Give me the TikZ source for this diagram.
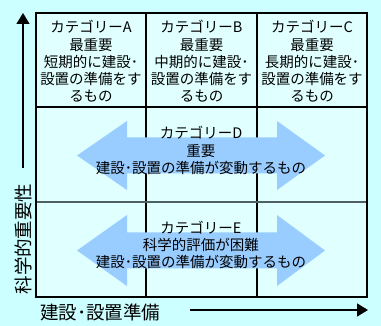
\documentclass[tikz,border=0pt]{standalone}
\usepackage{fontspec}
\newfontfamily\jpfont{Noto Sans CJK JP}
\usetikzlibrary{arrows.meta}
\definecolor{bgcol}{RGB}{204,255,255}
\definecolor{cellcol}{RGB}{224,255,255}
\definecolor{arrowcol}{RGB}{153,204,255}
\definecolor{midline}{RGB}{80,96,96}
\tikzset{
  gridline/.style={line width=2pt, black},
  bigarrow/.style={fill=arrowcol, draw=none},
  celltext/.style={font=\jpfont\fontsize{14.5}{17.3}\selectfont, align=center, inner sep=0pt},
  axistext/.style={font=\jpfont\fontsize{18.5}{20}\selectfont, inner sep=0pt},
  axisarrow/.style={line width=1.5pt, -{Triangle[length=11pt,width=13pt]}}
}
\begin{document}
\begin{tikzpicture}[x=1pt,y=-1pt]
\fill[bgcol] (0,0) rectangle (381,326);
\useasboundingbox (0,0) rectangle (381,326);
% cells
\fill[cellcol] (36,13) rectangle (367,297);
% grid
\draw[gridline] (146,13) -- (146,297);
\draw[gridline] (257,13) -- (257,297);
\draw[gridline] (36,107) -- (367,107);
\draw[line width=2pt, midline] (36,202) -- (367,202);
\draw[gridline] (36,13) rectangle (367,297);
% double arrows
\fill[bigarrow] (77,155.5) -- (127,121) -- (127,137.5) -- (277,137.5) -- (277,121) -- (325,155.5)
  -- (277,190) -- (277,173.5) -- (127,173.5) -- (127,190) -- cycle;
\fill[bigarrow] (77,250.5) -- (127,215) -- (127,232.5) -- (277,232.5) -- (277,215) -- (325,250.5)
  -- (277,286) -- (277,268.5) -- (127,268.5) -- (127,286) -- cycle;
% cell texts
\node[celltext] (ca) at (91,61.5) {カテゴリーA\\最重要\\短期的に建設･\\設置の準備をす\\るもの};
\node[celltext] (cb) at (201.5,61.5) {カテゴリーB\\最重要\\中期的に建設･\\設置の準備をす\\るもの};
\node[celltext] (cc) at (312,61.5) {カテゴリーC\\最重要\\長期的に建設･\\設置の準備をす\\るもの};
\node[celltext] (cd) at (201,150.5) {カテゴリーD\\重要\\建設･設置の準備が変動するもの};
\node[celltext] (ce) at (201,245) {カテゴリーE\\科学的評価が困難\\建設･設置の準備が変動するもの};
% axes
\node[axistext, rotate=90] (ylab) at (23,239) {科学的重要性};
\coordinate (ybot) at (23,168);
\coordinate (ytop) at (23,13);
\draw[axisarrow] (ybot) -- (ytop);
\node[axistext, anchor=west] (xlab) at (40,312) {建設･設置準備};
\coordinate (xl) at (190,310);
\coordinate (xr) at (368,310);
\draw[axisarrow] (xl) -- (xr);
\end{tikzpicture}
\end{document}
